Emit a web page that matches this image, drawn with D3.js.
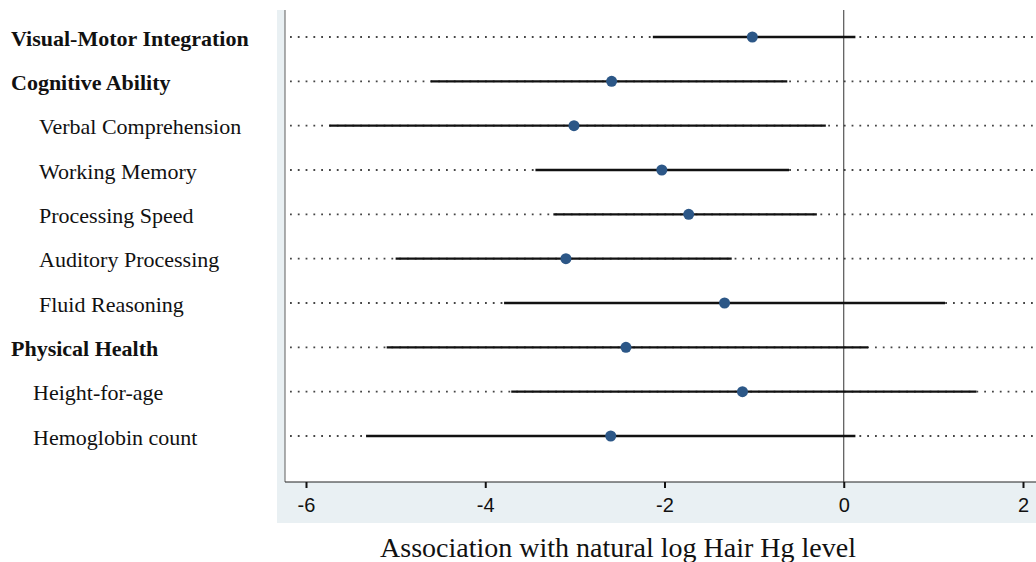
<!DOCTYPE html>
<html>
<head>
<meta charset="utf-8">
<script src="https://cdn.jsdelivr.net/npm/d3@7/dist/d3.min.js"></script>
<style>
  body { margin: 0; background: #fff; }
  svg { display: block; }
</style>
</head>
<body>
<div id="chart"></div>
<script>
// outcomes, top to bottom
const labels = [
  "Visual-Motor Integration", "Cognitive Ability", "Verbal Comprehension",
  "Working Memory", "Processing Speed", "Auditory Processing", "Fluid Reasoning",
  "Physical Health", "Height-for-age", "Hemoglobin count"
];
const isHeader = [true, true, false, false, false, false, false, true, false, false];
const indent = [0, 0, 28, 28, 28, 28, 28, 0, 22, 22];
const estimate = [-1.02, -2.59, -3.01, -2.03, -1.73, -3.10, -1.33, -2.43, -1.13, -2.60];
const lower    = [-2.13, -4.61, -5.74, -3.44, -3.24, -5.00, -3.79, -5.10, -3.71, -5.33];
const upper    = [ 0.13, -0.63, -0.20, -0.61, -0.30, -1.25,  1.13,  0.27,  1.48,  0.13];
const xTicks = [-6, -4, -2, 0, 2];
const xTitle = "Association with natural log Hair Hg level";

const W = 1036, H = 562;
const svg = d3.select("#chart").append("svg")
  .attr("width", W).attr("height", H);

const x = d3.scaleLinear().domain([-6, 2]).range([306, 1023]);
const y = d3.scalePoint().domain(d3.range(labels.length)).range([37, 436]);

const plotLeft = 285, plotTop = 10, plotBottom = 482;

// graph region band + white plot region
svg.append("rect")
  .attr("x", 277).attr("y", plotTop)
  .attr("width", W - 277).attr("height", 523 - plotTop)
  .style("fill", "#e9f0f3");
svg.append("rect")
  .attr("x", plotLeft).attr("y", plotTop)
  .attr("width", W - plotLeft).attr("height", plotBottom - plotTop)
  .style("fill", "#fff");

// dotted guide lines
svg.append("g").selectAll("line")
  .data(labels)
  .enter().append("line")
  .attr("x1", plotLeft + 5).attr("x2", W)
  .attr("y1", (d, i) => y(i)).attr("y2", (d, i) => y(i))
  .style("stroke", "#444")
  .style("stroke-width", 1.8)
  .style("stroke-dasharray", "1.8,6");

// zero line
svg.append("line")
  .attr("x1", x(0)).attr("x2", x(0))
  .attr("y1", plotTop).attr("y2", plotBottom)
  .style("stroke", "#333").style("stroke-width", 1);

// confidence intervals
svg.append("g").selectAll("line")
  .data(labels)
  .enter().append("line")
  .attr("x1", (d, i) => x(lower[i])).attr("x2", (d, i) => x(upper[i]))
  .attr("y1", (d, i) => y(i)).attr("y2", (d, i) => y(i))
  .style("stroke", "#111").style("stroke-width", 2.3);

// point estimates
svg.append("g").selectAll("circle")
  .data(labels)
  .enter().append("circle")
  .attr("cx", (d, i) => x(estimate[i]))
  .attr("cy", (d, i) => y(i))
  .attr("r", 5.5)
  .style("fill", "#2c5787");

// axes lines
svg.append("line")
  .attr("x1", plotLeft).attr("x2", plotLeft)
  .attr("y1", plotTop).attr("y2", plotBottom)
  .style("stroke", "#777").style("stroke-width", 1.2);

const xAxis = svg.append("g")
  .attr("transform", "translate(0," + plotBottom + ")")
  .call(d3.axisBottom(x).tickValues(xTicks).tickSize(6).tickPadding(10).tickFormat(d => String(d)));
xAxis.select(".domain")
  .attr("d", "M" + plotLeft + ",0H" + W)
  .style("stroke", "#222").style("stroke-width", 1.2);
xAxis.selectAll(".tick line").style("stroke", "#111").style("stroke-width", 2);
xAxis.selectAll(".tick text")
  .style("font-family", "'Liberation Sans', Arial, sans-serif")
  .style("font-size", "20px")
  .style("fill", "#111");

// row labels
svg.append("g").selectAll("text")
  .data(labels)
  .enter().append("text")
  .attr("x", (d, i) => 11 + indent[i])
  .attr("y", (d, i) => y(i) + 1)
  .attr("dominant-baseline", "central")
  .style("font-family", "'Liberation Serif', 'Times New Roman', serif")
  .style("font-size", "22px")
  .style("font-weight", (d, i) => isHeader[i] ? "bold" : "normal")
  .style("fill", "#111")
  .text(d => d);

// x title
svg.append("text")
  .attr("x", 618).attr("y", 557)
  .attr("text-anchor", "middle")
  .style("font-family", "'Liberation Serif', 'Times New Roman', serif")
  .style("font-size", "28px")
  .style("fill", "#111")
  .text(xTitle);
</script>
</body>
</html>
